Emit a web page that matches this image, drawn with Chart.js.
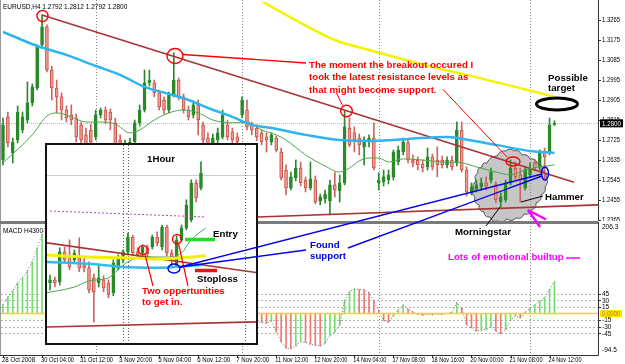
<!DOCTYPE html>
<html>
<head>
<meta charset="utf-8">
<script src="https://cdn.jsdelivr.net/npm/chart.js@4.4.1/dist/chart.umd.min.js"></script>
<style>
html,body{margin:0;padding:0;background:#fff;}
#wrap{position:relative;width:625px;height:364px;overflow:hidden;background:#fff;}
canvas{position:absolute;display:block;}
#pc{left:0;top:0;}
#mc{left:0;top:222px;}
#sep{position:absolute;left:0;top:221px;width:598px;height:3px;background:#7b7b7b;}
#inset{position:absolute;left:45px;top:143px;width:213px;height:202px;border:2px solid #141414;box-sizing:border-box;background:#fff;}
#ic{left:0;top:0;}
#ann{position:absolute;left:0;top:0;pointer-events:none;font-family:"Liberation Sans",Arial,sans-serif;}
#ann text{font-weight:bold;font-size:9.7px;}
#ann text.small{font-weight:normal;font-size:6.5px;}
</style>
</head>
<body>
<div id="wrap">
<canvas id="pc" width="625" height="221"></canvas>
<canvas id="mc" width="625" height="142"></canvas>
<div id="sep"></div>
<div id="inset"><canvas id="ic" width="209" height="198"></canvas></div>
<svg id="ann" width="625" height="364" viewBox="0 0 625 364">
 <text id="hdr" class="small" x="3" y="9" fill="#000"></text>
 <text class="small" x="3" y="233" fill="#000">MACD H4300</text>
 <g fill="none" stroke="#ff0000" stroke-width="1.4">
   <circle cx="42.5" cy="16" r="5.5"/>
   <ellipse cx="175" cy="56" rx="8" ry="7.5"/>
   <line x1="183" y1="54.5" x2="306" y2="63"/>
   <circle cx="346.5" cy="111" r="5.8"/>
   <line x1="342.5" y1="105.5" x2="336.5" y2="93" stroke-width="1"/>
   <line x1="443" y1="89.5" x2="507" y2="157" stroke-width="1"/>
   <ellipse cx="513" cy="161.5" rx="7" ry="4.5"/>
   <circle cx="143" cy="250" r="4.5"/>
   <circle cx="177" cy="239" r="4.5"/>
   <line x1="145" y1="254.5" x2="153" y2="286" stroke-width="1.2"/>
   <line x1="178.5" y1="243.5" x2="188" y2="286" stroke-width="1.2"/>
 </g>
 <g fill="#ff0000">
   <text x="309" y="68">The moment the breakout occured I</text>
   <text x="309" y="80.3">took the latest resistance levels as</text>
   <text x="309" y="92.6">that might become support.</text>
   <text x="142" y="294">Two oppertunities</text>
   <text x="142" y="305">to get in.</text>
 </g>
 <g fill="none" stroke="#0000ee" stroke-width="1.4">
   <ellipse cx="545" cy="173.5" rx="3.5" ry="6.5"/>
   <ellipse cx="174" cy="268.5" rx="6" ry="4.5"/>
   <line x1="180" y1="267" x2="542" y2="174"/>
   <line x1="180" y1="267" x2="306" y2="250"/>
   <line x1="348" y1="248" x2="542" y2="176"/>
 </g>
 <g fill="#0000dd"><text x="310" y="248">Found</text><text x="310" y="258.5">support</text></g>
 <line x1="185" y1="239.5" x2="215" y2="239.5" stroke="#22dd22" stroke-width="3.5"/>
 <line x1="195" y1="270.5" x2="217" y2="270.5" stroke="#ee1111" stroke-width="3.5"/>
 <g fill="#000">
   <text x="147" y="162">1Hour</text>
   <text x="213" y="237">Entry</text>
   <text x="197" y="282">Stoploss</text>
   <text x="548" y="80.5">Possible</text>
   <text x="548" y="90.5">target</text>
   <text x="545" y="199.5">Hammer</text>
   <text x="455" y="235">Morningstar</text>
 </g>
 <ellipse cx="557" cy="104" rx="20.5" ry="6" fill="none" stroke="#000" stroke-width="3"/>
 <g stroke="#000" stroke-width="1"><line x1="521" y1="202" x2="543" y2="196"/><line x1="500" y1="207" x2="486" y2="226"/></g>
 <g stroke="#ff00ff" stroke-width="2.5" fill="none"><line x1="528" y1="210" x2="546" y2="219.5"/><line x1="528" y1="210" x2="540" y2="227"/><line x1="566" y1="258" x2="580" y2="258" stroke-width="1.5"/></g>
 <text x="448" y="259.5" fill="#ff00ff">Lots of emotional builtup</text>
</svg>
</div>
<script>
// ---------- main H4 chart data ----------
const open = [1.2635,1.2829,1.2667,1.2725,1.2770,1.2815,1.2892,1.2959,1.3153,1.3234,1.3040,1.2959,1.2919,1.2860,1.2838,1.2824,1.2793,1.2748,1.2770,1.2739,1.2838,1.2860,1.2851,1.2802,1.2725,1.2680,1.2694,1.2716,1.2802,1.2860,1.2982,1.2982,1.2937,1.2905,1.2860,1.2928,1.2995,1.2919,1.2860,1.2838,1.2883,1.2793,1.2734,1.2689,1.2725,1.2739,1.2793,1.2761,1.2739,1.2838,1.2860,1.2793,1.2779,1.2757,1.2739,1.2716,1.2734,1.2671,1.2590,1.2509,1.2554,1.2599,1.2545,1.2509,1.2545,1.2451,1.2460,1.2451,1.2523,1.2496,1.2532,1.2779,1.2757,1.2734,1.2694,1.2716,1.2734,1.2532,1.2536,1.2545,1.2559,1.2626,1.2671,1.2712,1.2635,1.2635,1.2617,1.2604,1.2649,1.2635,1.2635,1.2613,1.2635,1.2622,1.2770,1.2590,1.2491,1.2505,1.2514,1.2532,1.2545,1.2523,1.2446,1.2455,1.2532,1.2599,1.2568,1.2509,1.2568,1.2622,1.2604,1.2671,1.2667,1.2792];
const high = [1.2824,1.2851,1.2734,1.2878,1.2851,1.2986,1.2977,1.3153,1.3288,1.3243,1.3058,1.2995,1.2937,1.2878,1.2883,1.2842,1.2806,1.2779,1.2797,1.2860,1.2869,1.2874,1.2865,1.2824,1.2748,1.2725,1.2734,1.2815,1.2883,1.3040,1.3040,1.2995,1.2950,1.2919,1.2941,1.3117,1.3004,1.2932,1.2878,1.2901,1.2905,1.2806,1.2757,1.2752,1.2779,1.2860,1.2815,1.2779,1.2757,1.2919,1.2905,1.2806,1.2793,1.2770,1.2757,1.2757,1.2743,1.2689,1.2613,1.2581,1.2635,1.2626,1.2559,1.2626,1.2563,1.2482,1.2500,1.2545,1.2581,1.2568,1.2856,1.2824,1.2784,1.2752,1.2739,1.2748,1.2802,1.2577,1.2590,1.2590,1.2680,1.2698,1.2734,1.2725,1.2658,1.2649,1.2635,1.2689,1.2662,1.2694,1.2653,1.2649,1.2653,1.2806,1.2806,1.2604,1.2532,1.2545,1.2554,1.2559,1.2599,1.2536,1.2487,1.2545,1.2635,1.2626,1.2599,1.2604,1.2622,1.2635,1.2680,1.2689,1.2824,1.2812];
const low = [1.2613,1.2694,1.2622,1.2712,1.2757,1.2802,1.2878,1.2950,1.3139,1.3031,1.2905,1.2847,1.2815,1.2806,1.2793,1.2716,1.2698,1.2680,1.2689,1.2725,1.2824,1.2797,1.2770,1.2680,1.2658,1.2658,1.2680,1.2703,1.2788,1.2851,1.2968,1.2919,1.2860,1.2842,1.2847,1.2919,1.2905,1.2847,1.2815,1.2824,1.2748,1.2689,1.2658,1.2671,1.2707,1.2730,1.2725,1.2698,1.2698,1.2824,1.2770,1.2748,1.2721,1.2703,1.2671,1.2703,1.2671,1.2545,1.2478,1.2500,1.2541,1.2518,1.2491,1.2500,1.2437,1.2433,1.2442,1.2388,1.2469,1.2446,1.2523,1.2694,1.2671,1.2658,1.2613,1.2694,1.2590,1.2500,1.2518,1.2527,1.2545,1.2613,1.2658,1.2622,1.2604,1.2590,1.2581,1.2590,1.2590,1.2559,1.2599,1.2599,1.2590,1.2608,1.2581,1.2473,1.2478,1.2491,1.2500,1.2500,1.2532,1.2442,1.2424,1.2446,1.2523,1.2545,1.2446,1.2500,1.2554,1.2586,1.2590,1.2545,1.2658,1.2792];
const close = [1.2793,1.2712,1.2716,1.2851,1.2829,1.2892,1.2964,1.3144,1.3234,1.3040,1.2959,1.2919,1.2860,1.2824,1.2815,1.2739,1.2725,1.2703,1.2716,1.2838,1.2860,1.2815,1.2815,1.2703,1.2680,1.2703,1.2716,1.2802,1.2860,1.2982,1.2995,1.2937,1.2874,1.2860,1.2928,1.2995,1.2919,1.2860,1.2829,1.2883,1.2815,1.2725,1.2689,1.2734,1.2757,1.2838,1.2739,1.2725,1.2716,1.2905,1.2784,1.2770,1.2739,1.2716,1.2725,1.2748,1.2680,1.2554,1.2509,1.2559,1.2599,1.2532,1.2509,1.2550,1.2446,1.2469,1.2482,1.2523,1.2500,1.2532,1.2784,1.2703,1.2725,1.2703,1.2725,1.2734,1.2599,1.2545,1.2559,1.2568,1.2671,1.2680,1.2716,1.2635,1.2622,1.2613,1.2599,1.2649,1.2604,1.2613,1.2613,1.2635,1.2604,1.2770,1.2590,1.2491,1.2514,1.2523,1.2532,1.2518,1.2581,1.2455,1.2469,1.2532,1.2599,1.2559,1.2545,1.2590,1.2599,1.2599,1.2667,1.2649,1.2793,1.2800];

// moving averages: [bar, price]
const blueMA = [[0,1.3211],[3,1.3184],[7,1.3148],[13,1.3108],[19,1.3058],[24,1.3018],[29,1.2964],[34,1.2932],[38,1.2905],[42,1.2869],[47,1.2829],[51,1.2793],[55,1.2779],[62,1.2748],[69,1.2725],[76,1.2721],[83,1.2730],[91,1.2739],[96,1.2723],[101,1.2703],[108,1.2676],[113,1.2667]];
const greenMA = [[0,1.2622],[6,1.2748],[9,1.2833],[11,1.2847],[14,1.2829],[17,1.2806],[20,1.2806],[23,1.2797],[26,1.2757],[28,1.2770],[31,1.2815],[34,1.2847],[37,1.2860],[40,1.2847],[43,1.2815],[47,1.2802],[50,1.2806],[53,1.2770],[56,1.2748],[58,1.2725],[62,1.2658],[66,1.2608],[69,1.2581],[71,1.2599],[73,1.2631],[75,1.2644],[77,1.2644],[79,1.2626],[82,1.2640],[86,1.2635],[90,1.2626],[94,1.2622],[97,1.2604],[101,1.2581],[104,1.2568],[107,1.2590],[110,1.2604],[113,1.2613]];
const yellowMA = [[40,1.3526],[47,1.3432],[53,1.3351],[61,1.3252],[68,1.3175],[75,1.3130],[81,1.3094],[88,1.3054],[95,1.3018],[105,1.2964],[113,1.2919]];
const trendDown = [[8,1.3288],[117,1.2535]];
const trendSupport = [[45,1.2373],[122,1.2433]];

// MACD histogram values
const macd = [20,38,52,70,82,98,118,150,180,
 206,196,178,158,138,118,98,80,64,52,46,42,38,32,27,22,18,22,30,38,42,40,35,30,26,22,18,14,10,6,2,-2,-4,-7,-9,-11,-12,-10,-8,-6,-6,-10,-14,-18,
 -20,-22,-18,-42,-64,-79,-80,-74,-64,-66,-70,-73,-74,-68,-50,-42,-27,30,50,56,55,54,48,28,6,-16,-20,-6,8,20,10,4,-2,-4,-1,-3,-1,-2,0,3,25,12,-26,-33,-40,-38,-36,-30,-40,-46,-37,-15,-6,-10,4,12,20,28,36,55,73];
const macdMax = 206.3, macdMin = -94.5;
const macdLevels = [45,30,15,-15,-30,-45];

// axes
const priceTicks = [1.3265,1.3175,1.3085,1.2995,1.2905,1.2815,1.2725,1.2635,1.2545,1.2455,1.2365];
const tickBars = [0,8,16,24,32,40,48,56,64,72,80,88,96,104,112];
const tickLabels = ["28 Oct 2008","30 Oct 04:00","31 Oct 12:00","3 Nov 20:00","5 Nov 04:00","6 Nov 12:00","7 Nov 20:00","11 Nov 12:00","12 Nov 20:00","14 Nov 04:00","17 Nov 08:00","18 Nov 16:00","20 Nov 00:00","21 Nov 08:00","24 Nov 12:00"];
const weekStarts = [19,49,77,108];

// ---------- 1 hour inset data ----------
const iOpen = [1.2530,1.2538,1.2533,1.2608,1.2600,1.2588,1.2593,1.2575,1.2568,1.2543,1.2530,1.2538,1.2530,1.2505,1.2568,1.2588,1.2608,1.2645,1.2608,1.2605,1.2618,1.2620,1.2645,1.2620,1.2670,1.2605,1.2570,1.2638,1.2668,1.2688,1.2780,1.2768];
const iHigh = [1.2550,1.2545,1.2618,1.2620,1.2638,1.2613,1.2643,1.2595,1.2583,1.2553,1.2575,1.2548,1.2538,1.2588,1.2600,1.2613,1.2655,1.2650,1.2618,1.2625,1.2625,1.2650,1.2658,1.2675,1.2675,1.2613,1.2648,1.2675,1.2738,1.2788,1.2788,1.2833];
const iLow = [1.2513,1.2520,1.2525,1.2580,1.2563,1.2583,1.2558,1.2558,1.2505,1.2433,1.2520,1.2508,1.2493,1.2498,1.2563,1.2580,1.2600,1.2598,1.2593,1.2598,1.2593,1.2615,1.2623,1.2613,1.2598,1.2568,1.2568,1.2633,1.2663,1.2683,1.2733,1.2763];
const iClose = [1.2538,1.2530,1.2608,1.2588,1.2570,1.2605,1.2568,1.2568,1.2513,1.2508,1.2543,1.2518,1.2500,1.2580,1.2593,1.2608,1.2645,1.2605,1.2600,1.2620,1.2603,1.2645,1.2630,1.2670,1.2605,1.2588,1.2638,1.2668,1.2725,1.2780,1.2743,1.2805];
const iYellow = [[-1,1.2600],[8,1.2595],[15,1.2593],[22,1.2590],[27,1.2593],[32,1.2598]];
const iBlue = [[-1,1.2583],[8,1.2578],[15,1.2570],[22,1.2568],[29,1.2573],[31,1.2575]];
const iGreen = [[-1,1.2505],[5,1.2520],[8,1.2535],[12,1.2543],[14,1.2563],[16,1.2583],[20,1.2595],[24,1.2595],[27,1.2605],[29,1.2638],[32,1.2668]];
const iTrendDown = [[-1,1.2631],[43,1.2555]];
const iSupport = [[-1,1.2420],[43,1.2433]];
const iPurple = [[0,1.2710],[32,1.2695]];
const iSeps = [15,16,40];
const iBid = 1.2800;

// ---------- helpers ----------
const N = open.length;
const FONT = '"Liberation Sans", Arial, sans-serif';
const pts = a => a.map(([x,y]) => ({x, y}));
const GREEN = '#2a8a2a', RED_FILL = '#f09c8e', RED_EDGE = '#c8504a', RED_WICK = '#cc6660';
function candleSets(o,h,l,c,bodyW){
  const idx = o.map((_,i)=>i);
  const up = idx.map(i => c[i] >= o[i]);
  return [
    {type:'bar', data: idx.map(i=>({x:i, y:[Math.min(o[i],c[i]), Math.max(o[i],c[i])]})),
     backgroundColor: up.map(u=>u?GREEN:RED_FILL), borderColor: up.map(u=>u?GREEN:RED_EDGE),
     borderWidth:1, borderSkipped:false, barThickness:bodyW, grouped:false, minBarLength:1},
    {type:'bar', data: idx.map(i=>({x:i, y:[l[i], h[i]]})),
     backgroundColor: up.map(u=>u?GREEN:RED_WICK), borderWidth:0, barThickness:1, grouped:false}
  ];
}
function lineSet(a, color, w, tension, dash){
  return {type:'line', data: pts(a), borderColor: color, borderWidth: w, pointRadius:0,
          tension: tension, cubicInterpolationMode: tension ? 'monotone' : 'default', borderDash: dash || [], fill:false};
}
const common = {responsive:false, animation:false, devicePixelRatio:1, events:[],
  plugins:{legend:{display:false}, tooltip:{enabled:false}}};
const xMin = -0.41, xMax = 121.93;

const cloudOutline = [[487,163],[497,156],[506,151],[514,151],[522,155],[530,159],[537,163],[542,170],[546,178],[545,187],[541,195],[536,203],[531,210],[524,214],[516,218],[507,219],[498,221],[490,217],[484,212],[479,205],[475,197],[474,189],[476,181],[478,173],[482,167]];
function drawCloud(ctx){
  const p = cloudOutline, n = p.length;
  let cx=0, cy=0; p.forEach(q=>{cx+=q[0]; cy+=q[1];}); cx/=n; cy/=n;
  ctx.beginPath(); ctx.moveTo(p[0][0], p[0][1]);
  for(let k=0;k<n;k++){
    const a=p[k], b=p[(k+1)%n];
    const mx=(a[0]+b[0])/2, my=(a[1]+b[1])/2, dx=mx-cx, dy=my-cy, d=Math.hypot(dx,dy)||1;
    ctx.quadraticCurveTo(mx+dx/d*4, my+dy/d*4, b[0], b[1]);
  }
  ctx.closePath();
  ctx.fillStyle='#c6c6c6'; ctx.fill();
  ctx.strokeStyle='#555'; ctx.lineWidth=1; ctx.stroke();
}
function vDotted(ctx, x, list, top, bottom, color){
  ctx.strokeStyle=color; ctx.lineWidth=1; ctx.setLineDash([1,2]);
  list.forEach(i=>{const px=Math.round(x.getPixelForValue(i))+0.5; ctx.beginPath(); ctx.moveTo(px,top); ctx.lineTo(px,bottom); ctx.stroke();});
  ctx.setLineDash([]);
}

document.getElementById('hdr').textContent =
  'EURUSD,H4  ' + [open[N-1],high[N-1],low[N-1],close[N-1]].map(v=>v.toFixed(4)).join(' ');

// ---------- price chart ----------
const pricePlugin = {
  id:'pricePlugin',
  beforeDatasetsDraw(chart){
    const {ctx, chartArea:a, scales:{x,y}} = chart;
    ctx.save();
    drawCloud(ctx);
    vDotted(ctx, x, weekStarts, a.top-2, a.bottom, '#8a8a8a');
    const by = Math.round(y.getPixelForValue(close[N-1]))+0.5;
    ctx.strokeStyle='#bdbdbd'; ctx.setLineDash([1,1]);
    ctx.beginPath(); ctx.moveTo(a.left,by); ctx.lineTo(a.right,by); ctx.stroke();
    ctx.restore();
  },
  afterDraw(chart){
    const {ctx, scales:{y}} = chart;
    ctx.save();
    ctx.lineWidth=1;
    ctx.strokeStyle='#9a9a9a'; ctx.beginPath(); ctx.moveTo(0.5,0); ctx.lineTo(0.5,221); ctx.stroke();
    ctx.strokeStyle='#333'; ctx.beginPath(); ctx.moveTo(598.5,0); ctx.lineTo(598.5,221); ctx.stroke();
    ctx.font='6.5px '+FONT; ctx.fillStyle='#000'; ctx.textBaseline='middle'; ctx.textAlign='left';
    priceTicks.forEach(v=>{
      const py=y.getPixelForValue(v), ry=Math.round(py)+0.5;
      ctx.beginPath(); ctx.moveTo(598,ry); ctx.lineTo(601,ry); ctx.stroke();
      ctx.fillText(v.toFixed(4), 602, py+0.5, 18);
    });
    const bid=close[N-1], by=y.getPixelForValue(bid);
    ctx.fillStyle='#000'; ctx.fillRect(600, by-4, 23, 8);
    ctx.fillStyle='#fff'; ctx.fillText(bid.toFixed(4), 602, by+0.5, 19);
    ctx.restore();
  }
};
new Chart(document.getElementById('pc'), {
  type:'bar',
  data:{datasets:[
    lineSet(blueMA, '#2eb5f0', 2.5, 0.4),
    lineSet(greenMA, '#4aa84a', 1, 0.4),
    lineSet(yellowMA, '#f4f400', 2.5, 0.4),
    lineSet(trendDown, '#a83434', 1.6, 0),
    lineSet(trendSupport, '#a83434', 1.6, 0),
    ...candleSets(open, high, low, close, 3)
  ]},
  options:{...common, layout:{padding:{left:1,right:27,top:2,bottom:0}},
    scales:{x:{type:'linear',min:xMin,max:xMax,display:false,offset:false},
            y:{type:'linear',min:1.23605,max:1.3346,display:false}}},
  plugins:[pricePlugin]
});

// ---------- MACD chart ----------
const macdColors = macd.map((v,i)=> (i===0 || v>=macd[i-1]) ? '#74de74' : '#f07878');
const macdPlugin = {
  id:'macdPlugin',
  beforeDatasetsDraw(chart){
    const {ctx, chartArea:a, scales:{x,y}} = chart;
    ctx.save();
    ctx.strokeStyle='#b4b4b4'; ctx.lineWidth=1; ctx.setLineDash([2,2]);
    macdLevels.forEach(v=>{const py=Math.round(y.getPixelForValue(v))+0.5; ctx.beginPath(); ctx.moveTo(a.left,py); ctx.lineTo(a.right,py); ctx.stroke();});
    vDotted(ctx, x, weekStarts, a.top, a.bottom, '#8a8a8a');
    ctx.restore();
  },
  afterDatasetsDraw(chart){
    const {ctx, chartArea:a, scales:{y}} = chart;
    const y0 = y.getPixelForValue(0);
    ctx.save(); ctx.strokeStyle='#ffd21a'; ctx.lineWidth=1.6;
    ctx.beginPath(); ctx.moveTo(a.left,y0); ctx.lineTo(a.right,y0); ctx.stroke(); ctx.restore();
  },
  afterDraw(chart){
    const {ctx, chartArea:a, scales:{x,y}} = chart;
    ctx.save(); ctx.lineWidth=1;
    ctx.strokeStyle='#9a9a9a'; ctx.beginPath(); ctx.moveTo(0.5,0); ctx.lineTo(0.5,a.bottom); ctx.stroke();
    ctx.strokeStyle='#333'; ctx.beginPath(); ctx.moveTo(598.5,0); ctx.lineTo(598.5,a.bottom+0.5); ctx.lineTo(0,a.bottom+0.5); ctx.stroke();
    ctx.font='6.5px '+FONT; ctx.fillStyle='#000'; ctx.textBaseline='middle'; ctx.textAlign='left';
    macdLevels.forEach(v=>{
      const py=y.getPixelForValue(v), ry=Math.round(py)+0.5;
      ctx.beginPath(); ctx.moveTo(598,ry); ctx.lineTo(601,ry); ctx.stroke();
      ctx.fillText(String(v), 602, py+0.5, 18);
    });
    ctx.fillText(macdMax.toFixed(1), 602, a.top+4.5, 18);
    ctx.fillText(macdMin.toFixed(1), 602, a.bottom-5, 18);
    const y0=y.getPixelForValue(0);
    ctx.fillStyle='#ffe000'; ctx.fillRect(600, y0-3.5, 22, 7);
    ctx.fillStyle='#a89400'; ctx.fillText((0).toFixed(4), 602, y0+0.5, 18);
    ctx.fillStyle='#000';
    tickBars.forEach((b,k)=>{
      const px=x.getPixelForValue(b);
      ctx.beginPath(); ctx.moveTo(Math.round(px)+0.5, a.bottom); ctx.lineTo(Math.round(px)+0.5, a.bottom+3); ctx.stroke();
      ctx.fillText(tickLabels[k], px-1, a.bottom+5.5, 33);
    });
    ctx.restore();
  }
};
new Chart(document.getElementById('mc'), {
  type:'bar',
  data:{datasets:[
    {type:'line', data: macd.map((v,i)=>({x:i,y:v})), borderColor:'#6e6e6e', borderWidth:1, borderDash:[1,2], pointRadius:0, tension:0, fill:false},
    {type:'bar', data: macd.map((v,i)=>({x:i,y:v})), backgroundColor: macdColors, barThickness:1, grouped:false, borderWidth:0}
  ]},
  options:{...common, layout:{padding:{left:1,right:27,top:1,bottom:9}},
    scales:{x:{type:'linear',min:xMin,max:xMax,display:false,offset:false},
            y:{type:'linear',min:macdMin,max:macdMax,display:false}}},
  plugins:[macdPlugin]
});

// ---------- 1 hour inset ----------
const insetPlugin = {
  id:'insetPlugin',
  beforeDatasetsDraw(chart){
    const {ctx, chartArea:a, scales:{x,y}} = chart;
    ctx.save();
    const by=Math.round(y.getPixelForValue(iBid))+0.5;
    ctx.strokeStyle='#cfcfcf'; ctx.lineWidth=1;
    ctx.beginPath(); ctx.moveTo(a.left,by); ctx.lineTo(a.right,by); ctx.stroke();
    vDotted(ctx, x, iSeps, a.top, a.bottom, '#555');
    ctx.restore();
  }
};
new Chart(document.getElementById('ic'), {
  type:'bar',
  data:{datasets:[
    lineSet(iYellow, '#f2f200', 3, 0.4),
    lineSet(iBlue, '#33bbee', 2.5, 0.4),
    lineSet(iGreen, '#4aa84a', 1, 0.4),
    lineSet(iTrendDown, '#a83434', 1.6, 0),
    lineSet(iSupport, '#a83434', 1.6, 0),
    lineSet(iPurple, '#b04cb0', 1, 0, [2,2]),
    ...candleSets(iOpen, iHigh, iLow, iClose, 3)
  ]},
  options:{...common, layout:{padding:0},
    scales:{x:{type:'linear',min:-0.62,max:42.3,display:false,offset:false},
            y:{type:'linear',min:1.2380,max:1.2875,display:false}}},
  plugins:[insetPlugin]
});
</script>
</body>
</html>
